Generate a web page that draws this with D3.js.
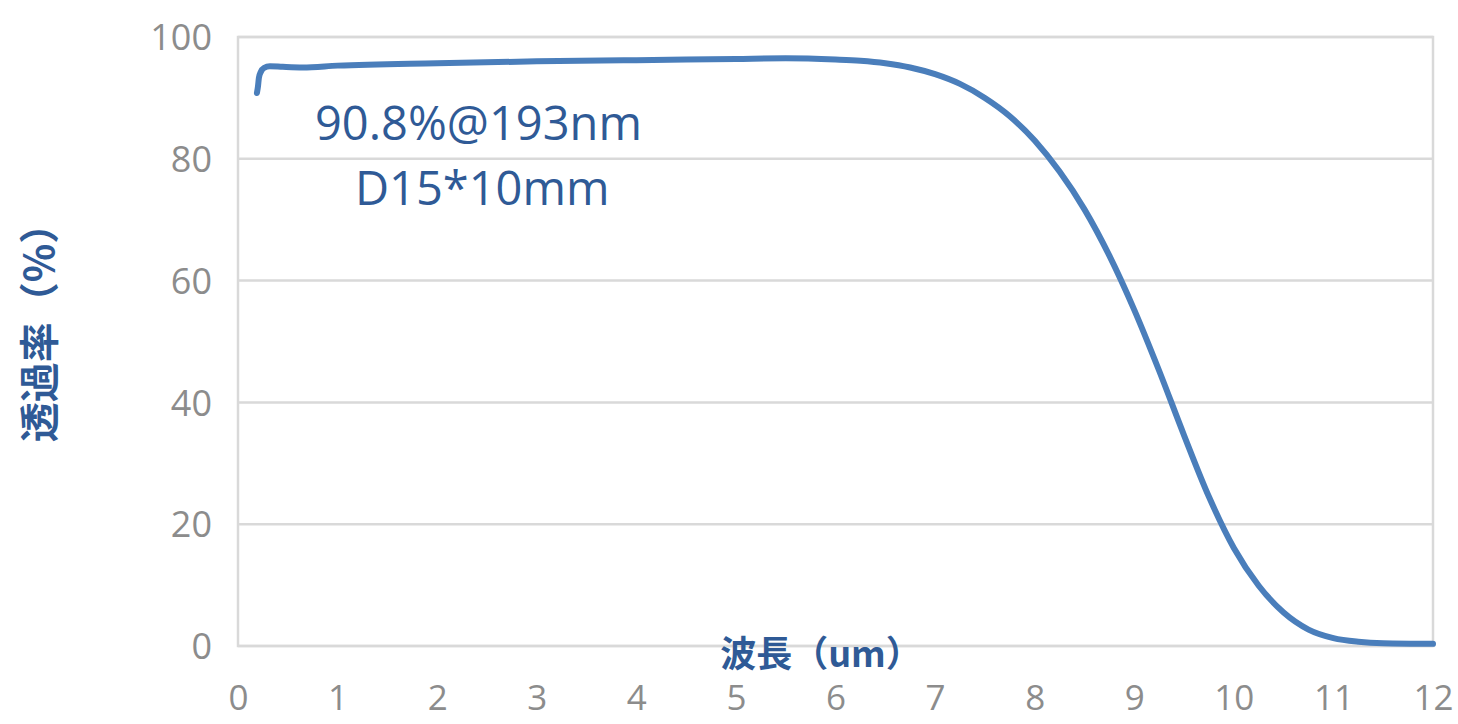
<!DOCTYPE html>
<html><head><meta charset="utf-8">
<script src="https://cdn.jsdelivr.net/npm/d3@7"></script>
<style>html,body{margin:0;padding:0;background:#fff;}</style>
</head><body>
<svg id="chart" width="1458" height="724"></svg>
<script>
const wavelength = [0.19,0.20,0.21,0.23,0.26,0.32,0.45,0.65,1.0,2.0,3.0,4.0,5.0,5.5,6.0,6.25,6.5,6.75,7.0,7.25,7.5,7.75,8.0,8.25,8.5,8.75,9.0,9.25,9.5,9.75,10.0,10.25,10.5,10.75,11.0,11.25,11.5,12.0];
const transmittance = [90.8,91.8,93.3,94.3,94.9,95.2,95.1,95.0,95.3,95.7,96.0,96.2,96.4,96.5,96.3,96.1,95.7,95.0,93.9,92.3,90.0,87.0,83.0,77.9,71.7,64.1,55.2,45.2,34.6,24.5,16.1,9.9,5.5,2.7,1.3,0.7,0.45,0.35];
const xTicks = [0,1,2,3,4,5,6,7,8,9,10,11,12];
const yTicks = [0,20,40,60,80,100];
const annotation = ["90.8%@193nm","D15*10mm"];
const xTitle = "波長（um）";
const yTitle = "透過率（%）";

const svg = d3.select("#chart");
const L=238,R=1433,T=37,B=646;
const x = d3.scaleLinear().domain([0,12]).range([L,R]);
const y = d3.scaleLinear().domain([0,100]).range([B,T]);
const grid="#d9d9d9", tickCol="#8c8c8c", blue="#4a7ebb", textBlue="#2f5a96";
const tickFont="'Open Sans', 'DejaVu Sans', sans-serif";

// gridlines
svg.append("g").selectAll("line").data(yTicks).join("line")
  .attr("x1",L).attr("x2",R).attr("y1",d=>y(d)).attr("y2",d=>y(d))
  .attr("stroke",grid).attr("stroke-width",2.5);
// border
svg.append("rect").attr("x",L).attr("y",T).attr("width",R-L).attr("height",B-T)
  .attr("fill","none").attr("stroke",grid).attr("stroke-width",2.5);

// y axis
const ya = svg.append("g").attr("transform",`translate(${L},0)`)
  .call(d3.axisLeft(y).tickValues(yTicks).tickSize(0).tickPadding(26));
ya.select(".domain").remove();
ya.selectAll("text").attr("font-family",tickFont).attr("font-size",36).attr("fill",tickCol).attr("dy","0.35em");

// x axis
const xa = svg.append("g").attr("transform",`translate(0,${B})`)
  .call(d3.axisBottom(x).tickValues(xTicks).tickSize(0).tickPadding(39));
xa.select(".domain").remove();
xa.selectAll("text").attr("font-family",tickFont).attr("font-size",35).attr("fill",tickCol);

// line
const data = wavelength.map((w,i)=>({w, t:transmittance[i]}));
svg.append("path").datum(data)
  .attr("d", d3.line().x(d=>x(d.w)).y(d=>y(d.t)).curve(d3.curveMonotoneX))
  .attr("fill","none").attr("stroke",blue).attr("stroke-width",6).attr("stroke-linecap","round").attr("stroke-linejoin","round");

// annotation
svg.append("text").attr("x",315).attr("y",140).text(annotation[0])
  .attr("font-family",tickFont).attr("font-size",47).attr("fill",textBlue);
svg.append("text").attr("x",355).attr("y",205).text(annotation[1])
  .attr("font-family",tickFont).attr("font-size",47).attr("fill",textBlue);

// axis titles
svg.append("text").attr("x",821).attr("y",667).attr("text-anchor","middle").text(xTitle)
  .attr("font-family","'Noto Sans CJK JP', sans-serif").attr("font-weight","bold").attr("font-size",36).attr("fill",textBlue);
svg.append("text").attr("transform","translate(54,323) rotate(-90)").attr("text-anchor","middle").text(yTitle)
  .attr("font-family","'Noto Sans CJK JP', sans-serif").attr("font-weight","bold").attr("font-size",40).attr("fill",textBlue);
</script>
</body></html>
